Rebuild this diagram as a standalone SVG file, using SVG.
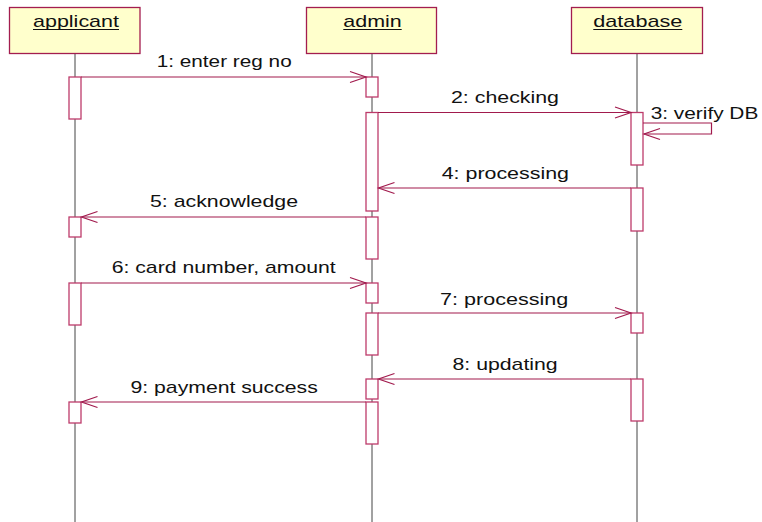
<svg xmlns="http://www.w3.org/2000/svg" width="762" height="522" viewBox="0 0 762 522">
<style>
.bg{fill:#ffffff}
.head{fill:#ffffcc;stroke:#a31d4f;stroke-width:1.3}
.life{stroke:#444444;stroke-width:1;fill:none}
.act{fill:#ffffff;stroke:#bd3b6a;stroke-width:1.3}
.msg{stroke:#a11a4d;stroke-width:1.2;fill:none}
.lbl{font-family:"Liberation Sans",Arial,sans-serif;font-size:17px;fill:#111111}
.ul{stroke:#111111;stroke-width:1}
</style>
<defs>
<marker id="open" markerUnits="userSpaceOnUse" markerWidth="20" markerHeight="14" refX="16" refY="6" orient="auto" overflow="visible">
<path d="M0,0.5 L16,6 L0,11.5" fill="none" stroke="#a11a4d" stroke-width="1.2"/>
</marker>
</defs>
<rect class="bg" x="0" y="0" width="762" height="522"/>

<g id="applicant">
<line class="life" x1="75" y1="53.5" x2="75" y2="522"/>
<rect class="head" x="9.5" y="7.5" width="130.5" height="46"/>
<text class="lbl" x="33" y="27" textLength="86" lengthAdjust="spacingAndGlyphs">applicant</text>
<line class="ul" x1="33" y1="29.5" x2="119" y2="29.5"/>
<rect class="act" x="69" y="77" width="12" height="42"/>
<rect class="act" x="69" y="217" width="12" height="20"/>
<rect class="act" x="69" y="283" width="12" height="42"/>
<rect class="act" x="69" y="402" width="12" height="21"/>
</g>

<g id="admin">
<line class="life" x1="372" y1="53.5" x2="372" y2="522"/>
<rect class="head" x="306.5" y="7.5" width="130" height="46"/>
<text class="lbl" x="343.3" y="27" textLength="58.4" lengthAdjust="spacingAndGlyphs">admin</text>
<line class="ul" x1="343.3" y1="29.5" x2="401.7" y2="29.5"/>
<rect class="act" x="366" y="77" width="12" height="20"/>
<rect class="act" x="366" y="112.5" width="12" height="98.5"/>
<rect class="act" x="366" y="217" width="12" height="42"/>
<rect class="act" x="366" y="283" width="12" height="20"/>
<rect class="act" x="366" y="313" width="12" height="42"/>
<rect class="act" x="366" y="379" width="12" height="20"/>
<rect class="act" x="366" y="402" width="12" height="42"/>
</g>

<g id="database">
<line class="life" x1="637" y1="53.5" x2="637" y2="522"/>
<rect class="head" x="571.5" y="7.5" width="131" height="46"/>
<text class="lbl" x="593.3" y="27" textLength="89" lengthAdjust="spacingAndGlyphs">database</text>
<line class="ul" x1="593.3" y1="29.5" x2="682.3" y2="29.5"/>
<rect class="act" x="631" y="112.5" width="12" height="52.5"/>
<rect class="act" x="631" y="188" width="12" height="43"/>
<rect class="act" x="631" y="313" width="12" height="20"/>
<rect class="act" x="631" y="379" width="12" height="42"/>
</g>

<g id="connectors">
<line class="msg" x1="81" y1="77" x2="366" y2="77" marker-end="url(#open)"/>
<text class="lbl" x="156.7" y="67" textLength="135" lengthAdjust="spacingAndGlyphs">1: enter reg no</text>

<line class="msg" x1="378" y1="112.5" x2="631" y2="112.5" marker-end="url(#open)"/>
<text class="lbl" x="451" y="103" textLength="108" lengthAdjust="spacingAndGlyphs">2: checking</text>

<polyline class="msg" points="643,123 711.5,123 711.5,134 644,134" marker-end="url(#open)"/>
<text class="lbl" x="650.7" y="119" textLength="107.6" lengthAdjust="spacingAndGlyphs">3: verify DB</text>

<line class="msg" x1="631" y1="188" x2="378.5" y2="188" marker-end="url(#open)"/>
<text class="lbl" x="441.7" y="179" textLength="127.3" lengthAdjust="spacingAndGlyphs">4: processing</text>

<line class="msg" x1="366" y1="217" x2="81.5" y2="217" marker-end="url(#open)"/>
<text class="lbl" x="150" y="207" textLength="148" lengthAdjust="spacingAndGlyphs">5: acknowledge</text>

<line class="msg" x1="81" y1="283" x2="366" y2="283" marker-end="url(#open)"/>
<text class="lbl" x="111.7" y="273" textLength="224" lengthAdjust="spacingAndGlyphs">6: card number, amount</text>

<line class="msg" x1="378" y1="313" x2="631" y2="313" marker-end="url(#open)"/>
<text class="lbl" x="440" y="305" textLength="128.3" lengthAdjust="spacingAndGlyphs">7: processing</text>

<line class="msg" x1="631" y1="379" x2="378.5" y2="379" marker-end="url(#open)"/>
<text class="lbl" x="452.5" y="370" textLength="105.2" lengthAdjust="spacingAndGlyphs">8: updating</text>

<line class="msg" x1="366" y1="402" x2="81.5" y2="402" marker-end="url(#open)"/>
<text class="lbl" x="130.5" y="393" textLength="187.3" lengthAdjust="spacingAndGlyphs">9: payment success</text>
</g>
</svg>
